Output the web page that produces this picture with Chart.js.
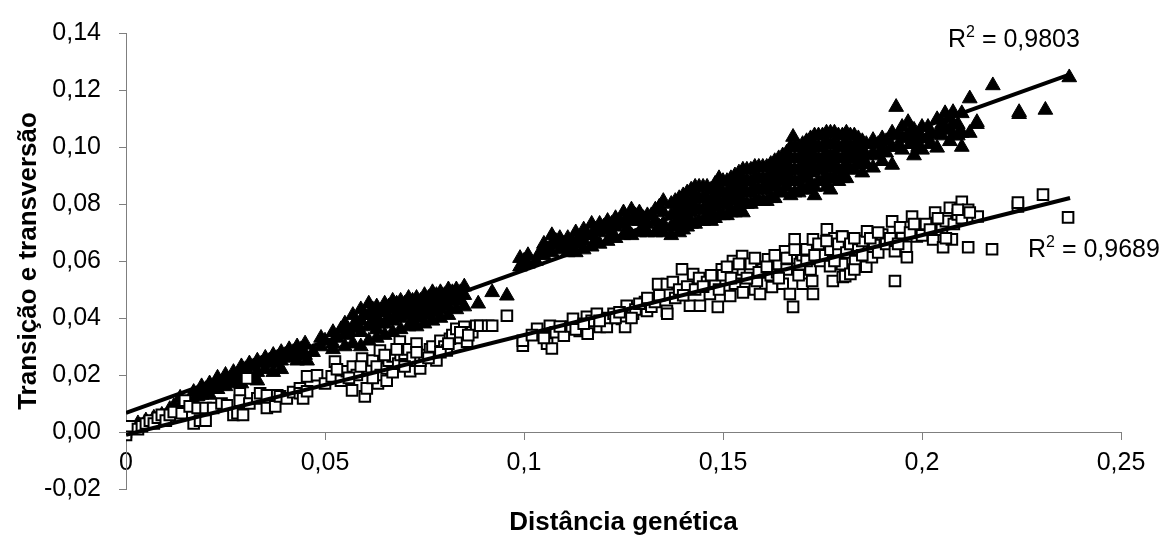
<!DOCTYPE html>
<html>
<head>
<meta charset="utf-8">
<title>Distância genética</title>
<script src="https://cdn.jsdelivr.net/npm/chart.js@4.4.1/dist/chart.umd.min.js"></script>
<style>
  html, body { margin: 0; padding: 0; background: #fff; }
  #wrap { width: 1163px; height: 545px; }
</style>
</head>
<body>
<div id="wrap"><canvas id="chart" width="1163" height="545"></canvas></div>
<script>
// filled triangles (upper cloud), [distance, value]
var triPoints = [
    [0.001, 0.001], [0.003, 0.003], [0.005, 0.004], [0.007, 0.005], [0.009, 0.006], [0.011, 0.008], [0.012, 0.009],
    [0.0136, 0.012], [0.014, 0.010], [0.017, 0.014], [0.017, 0.011], [0.019, 0.016], [0.019, 0.013],
    [0.021, 0.017], [0.021, 0.013], [0.023, 0.019], [0.023, 0.015], [0.025, 0.020], [0.025, 0.016],
    [0.027, 0.021], [0.027, 0.017], [0.029, 0.023], [0.029, 0.019], [0.029, 0.017], [0.031, 0.024], [0.031, 0.020],
    [0.033, 0.025], [0.033, 0.021], [0.033, 0.018], [0.035, 0.026], [0.035, 0.022],
    [0.037, 0.027], [0.037, 0.024], [0.037, 0.021], [0.039, 0.028], [0.039, 0.025], [0.039, 0.022],
    [0.041, 0.029], [0.041, 0.026], [0.043, 0.030], [0.043, 0.027], [0.043, 0.025],
    [0.045, 0.031], [0.045, 0.027], [0.0455, 0.025], [0.047, 0.028],
    [0.018, 0.0125], [0.020, 0.015], [0.022, 0.016], [0.024, 0.017], [0.026, 0.018], [0.028, 0.020], [0.030, 0.022],
    [0.032, 0.023], [0.034, 0.024], [0.036, 0.025], [0.038, 0.026], [0.040, 0.027], [0.042, 0.028], [0.044, 0.029],
    [0.049, 0.033], [0.049, 0.030], [0.052, 0.035], [0.052, 0.031], [0.052, 0.029],
    [0.055, 0.038], [0.055, 0.034], [0.055, 0.030], [0.057, 0.041], [0.057, 0.037], [0.057, 0.031],
    [0.059, 0.043], [0.059, 0.039], [0.059, 0.035], [0.059, 0.030], [0.061, 0.045], [0.061, 0.041], [0.061, 0.037], [0.061, 0.032],
    [0.063, 0.044], [0.063, 0.040], [0.063, 0.036], [0.063, 0.033], [0.065, 0.045], [0.065, 0.042], [0.065, 0.038], [0.065, 0.034],
    [0.067, 0.046], [0.067, 0.043], [0.067, 0.039], [0.067, 0.035], [0.069, 0.046], [0.069, 0.043], [0.069, 0.040], [0.069, 0.036],
    [0.071, 0.047], [0.071, 0.044], [0.071, 0.041], [0.071, 0.037], [0.073, 0.047], [0.073, 0.044], [0.073, 0.041], [0.073, 0.037],
    [0.075, 0.048], [0.075, 0.045], [0.075, 0.042], [0.075, 0.038], [0.077, 0.049], [0.077, 0.046], [0.077, 0.043], [0.077, 0.039],
    [0.079, 0.049], [0.079, 0.046], [0.079, 0.043], [0.079, 0.040], [0.081, 0.050], [0.081, 0.047], [0.081, 0.044], [0.081, 0.041],
    [0.083, 0.050], [0.083, 0.047], [0.083, 0.043], [0.085, 0.051], [0.085, 0.048], [0.085, 0.044],
    [0.050, 0.032], [0.053, 0.033], [0.054, 0.036], [0.056, 0.035], [0.058, 0.038], [0.060, 0.041], [0.062, 0.043], [0.062, 0.039],
    [0.064, 0.042], [0.064, 0.038], [0.066, 0.044], [0.066, 0.040], [0.068, 0.045], [0.068, 0.041], [0.070, 0.045], [0.070, 0.042],
    [0.072, 0.046], [0.072, 0.043], [0.072, 0.039], [0.074, 0.046], [0.074, 0.043], [0.074, 0.040], [0.076, 0.047], [0.076, 0.044],
    [0.076, 0.041], [0.078, 0.048], [0.078, 0.045], [0.078, 0.042], [0.080, 0.048], [0.080, 0.045], [0.082, 0.049], [0.082, 0.046],
    [0.084, 0.049], [0.084, 0.046],
    [0.0885, 0.045], [0.092, 0.049], [0.0957, 0.0478],
    [0.099, 0.061], [0.099, 0.058], [0.101, 0.062], [0.101, 0.059], [0.103, 0.060], [0.105, 0.066], [0.105, 0.062],
    [0.107, 0.069], [0.107, 0.066], [0.107, 0.063], [0.109, 0.068], [0.109, 0.064], [0.111, 0.068], [0.111, 0.065], [0.111, 0.063],
    [0.113, 0.070], [0.113, 0.066], [0.113, 0.063], [0.115, 0.071], [0.115, 0.067], [0.115, 0.064],
    [0.117, 0.073], [0.117, 0.069], [0.117, 0.065], [0.119, 0.073], [0.119, 0.070], [0.119, 0.066],
    [0.121, 0.074], [0.121, 0.071], [0.121, 0.067], [0.123, 0.075], [0.123, 0.072], [0.123, 0.068],
    [0.125, 0.077], [0.125, 0.073], [0.125, 0.069], [0.127, 0.078], [0.127, 0.074], [0.127, 0.069],
    [0.129, 0.077], [0.129, 0.074], [0.129, 0.070], [0.131, 0.076], [0.131, 0.073], [0.131, 0.070],
    [0.133, 0.078], [0.133, 0.074], [0.133, 0.070], [0.135, 0.081], [0.135, 0.077], [0.135, 0.073], [0.135, 0.070],
    [0.100, 0.060], [0.104, 0.063], [0.106, 0.064], [0.108, 0.067], [0.110, 0.066], [0.112, 0.067], [0.114, 0.068],
    [0.116, 0.069], [0.118, 0.071], [0.120, 0.072], [0.122, 0.073], [0.124, 0.074], [0.126, 0.075], [0.128, 0.076],
    [0.130, 0.075], [0.132, 0.076], [0.134, 0.079], [0.134, 0.072], [0.118, 0.067], [0.122, 0.069], [0.126, 0.071], [0.130, 0.072],
    [0.137, 0.080], [0.137, 0.076], [0.137, 0.072], [0.137, 0.069], [0.139, 0.082], [0.139, 0.078], [0.139, 0.074], [0.139, 0.070],
    [0.141, 0.084], [0.141, 0.080], [0.141, 0.076], [0.141, 0.072], [0.143, 0.086], [0.143, 0.082], [0.143, 0.078], [0.143, 0.073],
    [0.145, 0.086], [0.145, 0.082], [0.145, 0.078], [0.145, 0.074], [0.147, 0.085], [0.147, 0.081], [0.147, 0.077], [0.147, 0.074],
    [0.149, 0.089], [0.149, 0.084], [0.149, 0.080], [0.149, 0.076], [0.151, 0.088], [0.151, 0.084], [0.151, 0.080], [0.151, 0.076],
    [0.153, 0.090], [0.153, 0.086], [0.153, 0.082], [0.153, 0.077], [0.155, 0.092], [0.155, 0.088], [0.155, 0.084], [0.155, 0.080], [0.155, 0.077],
    [0.157, 0.092], [0.157, 0.088], [0.157, 0.084], [0.157, 0.080], [0.159, 0.093], [0.159, 0.089], [0.159, 0.085], [0.159, 0.081],
    [0.161, 0.093], [0.161, 0.089], [0.161, 0.085], [0.161, 0.081], [0.163, 0.095], [0.163, 0.091], [0.163, 0.087], [0.163, 0.082],
    [0.165, 0.097], [0.165, 0.093], [0.165, 0.089], [0.165, 0.084], [0.167, 0.100], [0.167, 0.096], [0.167, 0.092], [0.167, 0.088], [0.167, 0.083],
    [0.1676, 0.1035], [0.169, 0.100], [0.169, 0.096], [0.169, 0.092], [0.169, 0.088], [0.169, 0.084],
    [0.171, 0.102], [0.171, 0.098], [0.171, 0.094], [0.171, 0.090], [0.171, 0.085],
    [0.173, 0.104], [0.173, 0.100], [0.173, 0.096], [0.173, 0.092], [0.173, 0.086], [0.173, 0.083],
    [0.175, 0.104], [0.175, 0.100], [0.175, 0.096], [0.175, 0.092], [0.175, 0.088],
    [0.177, 0.105], [0.177, 0.101], [0.177, 0.097], [0.177, 0.093], [0.177, 0.089], [0.177, 0.085],
    [0.179, 0.104], [0.179, 0.100], [0.179, 0.096], [0.179, 0.092], [0.179, 0.088],
    [0.181, 0.105], [0.181, 0.101], [0.181, 0.097], [0.181, 0.093], [0.181, 0.089],
    [0.138, 0.081], [0.138, 0.077], [0.138, 0.073], [0.140, 0.083], [0.140, 0.079], [0.140, 0.075], [0.140, 0.071],
    [0.142, 0.085], [0.142, 0.081], [0.142, 0.077], [0.142, 0.073], [0.144, 0.086], [0.144, 0.082], [0.144, 0.078], [0.144, 0.074],
    [0.146, 0.086], [0.146, 0.082], [0.146, 0.078], [0.146, 0.075], [0.148, 0.087], [0.148, 0.083], [0.148, 0.079], [0.148, 0.075],
    [0.150, 0.088], [0.150, 0.084], [0.150, 0.080], [0.150, 0.076], [0.152, 0.089], [0.152, 0.085], [0.152, 0.081], [0.152, 0.077],
    [0.154, 0.091], [0.154, 0.087], [0.154, 0.083], [0.154, 0.079], [0.156, 0.092], [0.156, 0.088], [0.156, 0.084], [0.156, 0.080],
    [0.158, 0.093], [0.158, 0.089], [0.158, 0.085], [0.158, 0.081], [0.160, 0.093], [0.160, 0.089], [0.160, 0.085], [0.160, 0.081],
    [0.162, 0.094], [0.162, 0.090], [0.162, 0.086], [0.162, 0.082], [0.164, 0.096], [0.164, 0.092], [0.164, 0.088], [0.164, 0.084],
    [0.166, 0.098], [0.166, 0.094], [0.166, 0.090], [0.166, 0.086], [0.168, 0.100], [0.168, 0.096], [0.168, 0.092], [0.168, 0.088], [0.168, 0.084],
    [0.170, 0.101], [0.170, 0.097], [0.170, 0.093], [0.170, 0.089], [0.170, 0.085], [0.172, 0.103], [0.172, 0.099], [0.172, 0.095], [0.172, 0.091], [0.172, 0.087],
    [0.174, 0.104], [0.174, 0.100], [0.174, 0.096], [0.174, 0.092], [0.174, 0.088], [0.176, 0.105], [0.176, 0.101], [0.176, 0.097], [0.176, 0.093], [0.176, 0.089], [0.176, 0.086],
    [0.178, 0.105], [0.178, 0.101], [0.178, 0.097], [0.178, 0.093], [0.178, 0.089], [0.180, 0.104], [0.180, 0.100], [0.180, 0.096], [0.180, 0.092], [0.180, 0.089],
    [0.182, 0.104], [0.182, 0.100], [0.182, 0.096], [0.182, 0.092],
    [0.183, 0.104], [0.183, 0.100], [0.183, 0.096], [0.183, 0.092], [0.185, 0.102], [0.185, 0.098], [0.185, 0.094], [0.185, 0.091],
    [0.184, 0.103], [0.184, 0.099], [0.184, 0.095], [0.186, 0.101], [0.186, 0.097], [0.186, 0.094],
    [0.1877, 0.1024], [0.1877, 0.098], [0.1877, 0.0927], [0.190, 0.103], [0.190, 0.099], [0.190, 0.095],
    [0.189, 0.101], [0.189, 0.097], [0.191, 0.102], [0.191, 0.098],
    [0.1925, 0.105], [0.1925, 0.100], [0.1925, 0.0937], [0.1935, 0.114], [0.195, 0.107], [0.195, 0.103], [0.195, 0.099],
    [0.194, 0.104], [0.194, 0.100], [0.197, 0.105], [0.197, 0.101], [0.199, 0.104], [0.199, 0.100],
    [0.1965, 0.1087], [0.1965, 0.104], [0.198, 0.106], [0.198, 0.101], [0.198, 0.097],
    [0.200, 0.107], [0.200, 0.103], [0.200, 0.099], [0.2015, 0.107], [0.2015, 0.103], [0.202, 0.105], [0.202, 0.101],
    [0.2038, 0.1097], [0.2038, 0.1045], [0.2038, 0.0997], [0.2058, 0.1118], [0.2058, 0.107], [0.205, 0.108], [0.205, 0.104],
    [0.2078, 0.1122], [0.2078, 0.1077], [0.2078, 0.104], [0.207, 0.110], [0.207, 0.106], [0.207, 0.102],
    [0.210, 0.1118], [0.210, 0.1049], [0.210, 0.100], [0.209, 0.108], [0.209, 0.104],
    [0.212, 0.117], [0.212, 0.1049], [0.2138, 0.1087], [0.2138, 0.108], [0.2178, 0.1216],
    [0.2244, 0.1122], [0.2244, 0.1115], [0.231, 0.113], [0.237, 0.1244]
];

// open squares (lower cloud), [distance, value]
var sqPoints = [
    [0, 0], [0, -0.001], [0.001, 0.002], [0.003, 0.001], [0.004, 0.002], [0.005, 0.003], [0.006, 0.004], [0.007, 0.003],
    [0.008, 0.005], [0.009, 0.006], [0.010, 0.004], [0.011, 0.006], [0.012, 0.007], [0.014, 0.0066], [0.0148, 0.011],
    [0.016, 0.009], [0.017, 0.003], [0.018, 0.0084], [0.0186, 0.004], [0.020, 0.0084], [0.020, 0.004], [0.0219, 0.0084],
    [0.024, 0.010], [0.0254, 0.0094], [0.027, 0.006], [0.028, 0.0066], [0.0286, 0.0136], [0.0286, 0.011], [0.0294, 0.006],
    [0.0304, 0.0188], [0.031, 0.010], [0.033, 0.0118], [0.0337, 0.0136], [0.0354, 0.0129], [0.0354, 0.0084], [0.0375, 0.009],
    [0.038, 0.0129], [0.0387, 0.0125], [0.0404, 0.0118], [0.042, 0.014], [0.0437, 0.0153], [0.0437, 0.0136], [0.0445, 0.0118],
    [0.0455, 0.0195], [0.0455, 0.0143], [0.048, 0.0199], [0.050, 0.017],
    [0.0517, 0.0195], [0.0525, 0.0247], [0.054, 0.018], [0.0555, 0.0213], [0.0568, 0.0146], [0.057, 0.023], [0.058, 0.020],
    [0.0593, 0.0258], [0.060, 0.0125], [0.0605, 0.0153], [0.061, 0.022], [0.062, 0.0251], [0.0633, 0.017], [0.063, 0.023],
    [0.0638, 0.0286], [0.064, 0.020], [0.0655, 0.0223], [0.0655, 0.018], [0.066, 0.025], [0.067, 0.0265], [0.067, 0.021],
    [0.0684, 0.024], [0.0688, 0.0317], [0.069, 0.027], [0.070, 0.0275], [0.0714, 0.0213], [0.071, 0.029], [0.072, 0.026],
    [0.073, 0.031], [0.0739, 0.0223], [0.074, 0.025], [0.075, 0.027], [0.0764, 0.029], [0.077, 0.030], [0.078, 0.0251],
    [0.079, 0.032], [0.080, 0.030], [0.0806, 0.0286], [0.0814, 0.0327], [0.082, 0.034], [0.083, 0.0362], [0.084, 0.033],
    [0.085, 0.0369], [0.0857, 0.0317], [0.087, 0.035], [0.088, 0.0373], [0.089, 0.0373], [0.091, 0.0373], [0.092, 0.0373],
    [0.053, 0.022], [0.056, 0.019], [0.059, 0.023], [0.062, 0.019], [0.065, 0.027], [0.068, 0.029], [0.070, 0.023],
    [0.073, 0.028], [0.076, 0.026], [0.079, 0.028], [0.081, 0.031], [0.084, 0.035], [0.086, 0.034],
    [0.0957, 0.0408],
    [0.0997, 0.0303], [0.0997, 0.032], [0.1033, 0.0362], [0.1058, 0.031], [0.107, 0.0293], [0.1065, 0.0373], [0.108, 0.035],
    [0.110, 0.0338], [0.112, 0.037], [0.1123, 0.0397], [0.114, 0.0355], [0.1158, 0.0404], [0.116, 0.0345], [0.117, 0.039],
    [0.1183, 0.0415], [0.119, 0.0369], [0.1208, 0.0369], [0.121, 0.040], [0.1225, 0.0415], [0.1246, 0.0397], [0.1258, 0.0443],
    [0.1254, 0.0369], [0.1274, 0.0415], [0.128, 0.043], [0.1304, 0.0456], [0.1309, 0.0425], [0.132, 0.044], [0.1329, 0.0456],
    [0.134, 0.048], [0.1337, 0.0519], [0.1359, 0.0519], [0.1359, 0.0425],
    [0.102, 0.034], [0.105, 0.033], [0.109, 0.037], [0.113, 0.036], [0.115, 0.038], [0.119, 0.039], [0.123, 0.040],
    [0.124, 0.042], [0.127, 0.040], [0.129, 0.045], [0.131, 0.047],
    [0.136, 0.0415], [0.1374, 0.0526], [0.138, 0.047], [0.1397, 0.0571], [0.139, 0.050], [0.141, 0.051], [0.1417, 0.0443],
    [0.1425, 0.0554], [0.1442, 0.0443], [0.144, 0.054], [0.146, 0.0526], [0.1467, 0.0484], [0.148, 0.052], [0.1487, 0.0439],
    [0.1497, 0.0571], [0.150, 0.055], [0.1518, 0.0477], [0.1525, 0.060], [0.153, 0.052], [0.1548, 0.0617], [0.155, 0.057],
    [0.155, 0.049], [0.1568, 0.0564], [0.157, 0.059], [0.158, 0.050], [0.1585, 0.053], [0.1593, 0.0484], [0.160, 0.057],
    [0.1613, 0.0606], [0.162, 0.055], [0.1623, 0.0509], [0.1636, 0.0561], [0.164, 0.059], [0.165, 0.052], [0.1656, 0.0634],
    [0.166, 0.057], [0.167, 0.061], [0.1668, 0.0484], [0.1676, 0.0439], [0.168, 0.0676], [0.1693, 0.0589], [0.170, 0.062],
    [0.170, 0.052], [0.171, 0.0641], [0.172, 0.057], [0.1724, 0.053], [0.1726, 0.0676], [0.1726, 0.0484], [0.1744, 0.060],
    [0.175, 0.062], [0.1751, 0.0659], [0.1761, 0.0711], [0.177, 0.064], [0.1769, 0.0582], [0.1776, 0.053], [0.178, 0.068],
    [0.179, 0.063], [0.1799, 0.0686], [0.1799, 0.0589], [0.1801, 0.0544],
    [0.140, 0.048], [0.143, 0.050], [0.145, 0.051], [0.147, 0.055], [0.149, 0.050], [0.151, 0.058], [0.152, 0.054],
    [0.154, 0.059], [0.156, 0.054], [0.158, 0.061], [0.159, 0.056], [0.161, 0.058], [0.163, 0.062], [0.164, 0.054],
    [0.166, 0.061], [0.168, 0.064], [0.169, 0.055], [0.171, 0.060], [0.173, 0.062], [0.174, 0.066], [0.176, 0.067],
    [0.178, 0.060], [0.179, 0.066], [0.181, 0.063],
    [0.180, 0.0686], [0.1807, 0.0547], [0.182, 0.066], [0.182, 0.0555], [0.1832, 0.060], [0.183, 0.057], [0.184, 0.064],
    [0.185, 0.067], [0.1862, 0.0704], [0.186, 0.058], [0.1874, 0.0613], [0.188, 0.066], [0.189, 0.063], [0.190, 0.0693],
    [0.191, 0.066], [0.1925, 0.0739], [0.1932, 0.053], [0.1932, 0.0634], [0.1945, 0.0718], [0.195, 0.068], [0.196, 0.065],
    [0.1962, 0.0613], [0.1975, 0.0756], [0.1987, 0.0686], [0.199, 0.071], [0.2003, 0.0718], [0.201, 0.073], [0.2028, 0.0676],
    [0.2033, 0.077], [0.2045, 0.0739], [0.205, 0.071], [0.2053, 0.0648], [0.206, 0.074], [0.207, 0.0787], [0.2075, 0.0676],
    [0.208, 0.073], [0.209, 0.0763], [0.210, 0.0808], [0.210, 0.075], [0.2116, 0.078], [0.2116, 0.0648], [0.214, 0.0756],
    [0.183, 0.068], [0.185, 0.062], [0.187, 0.068], [0.189, 0.070], [0.192, 0.068], [0.194, 0.066], [0.197, 0.070],
    [0.198, 0.073], [0.200, 0.069], [0.202, 0.071], [0.204, 0.075], [0.206, 0.068], [0.209, 0.078], [0.212, 0.077],
    [0.2176, 0.0641], [0.2241, 0.0791], [0.2241, 0.0805], [0.2304, 0.0833], [0.2367, 0.0753]
];

// trend lines (start, end)
var triTrend = [[0, 0.0067], [0.2372, 0.1255]];
var sqTrend = [[0, -0.001], [0.2372, 0.0821]];

var triR2 = '0,9803';
var sqR2 = '0,9689';

var xTicks = [0, 0.05, 0.1, 0.15, 0.2, 0.25];
var xTickLabels = ['0', '0,05', '0,1', '0,15', '0,2', '0,25'];
var yTicks = [-0.02, 0, 0.02, 0.04, 0.06, 0.08, 0.1, 0.12, 0.14];
var yTickLabels = ['-0,02', '0,00', '0,02', '0,04', '0,06', '0,08', '0,10', '0,12', '0,14'];

var xTitle = 'Distância genética';
var yTitle = 'Transição e transversão';

var FONT = '"Liberation Sans", Arial, sans-serif';

function toXY(list) {
    return list.map(function (p) { return { x: p[0], y: p[1] }; });
}

// axis titles and R² labels
var textPlugin = {
    id: 'textPlugin',
    afterDraw: function (chart) {
        var ctx = chart.ctx, area = chart.chartArea;
        ctx.save();
        ctx.fillStyle = '#000';
        ctx.textBaseline = 'alphabetic';

        ctx.font = 'bold 26px ' + FONT;
        ctx.textAlign = 'center';
        ctx.fillText(xTitle, (area.left + area.right) / 2, 530);

        ctx.save();
        ctx.translate(36, (area.top + area.bottom) / 2);
        ctx.rotate(-Math.PI / 2);
        ctx.fillText(yTitle, 0, 0);
        ctx.restore();

        drawR2(ctx, triR2, 948, 47);
        drawR2(ctx, sqR2, 1028, 257);
        ctx.restore();
    }
};

function drawR2(ctx, value, x, y) {
    ctx.textAlign = 'left';
    ctx.font = '25px ' + FONT;
    ctx.fillText('R', x, y);
    var w = ctx.measureText('R').width;
    ctx.font = '16px ' + FONT;
    ctx.fillText('2', x + w, y - 10);
    var w2 = ctx.measureText('2').width;
    ctx.font = '25px ' + FONT;
    ctx.fillText(' = ' + value, x + w + w2, y);
}

var axisColor = '#7f7f7f';

new Chart(document.getElementById('chart'), {
    type: 'scatter',
    data: {
        datasets: [
            {
                type: 'line',
                data: toXY(triTrend),
                borderColor: '#000',
                borderWidth: 4,
                pointRadius: 0,
                fill: false,
                order: 0
            },
            {
                type: 'line',
                data: toXY(sqTrend),
                borderColor: '#000',
                borderWidth: 4,
                pointRadius: 0,
                fill: false,
                order: 0
            },
            {
                data: toXY(sqPoints),
                pointStyle: 'rect',
                pointRadius: 7.5,
                backgroundColor: '#fff',
                borderColor: '#000',
                borderWidth: 2,
                order: 1
            },
            {
                data: toXY(triPoints),
                pointStyle: 'triangle',
                pointRadius: 8.5,
                backgroundColor: '#000',
                borderColor: '#000',
                borderWidth: 1,
                order: 2
            }
        ]
    },
    options: {
        responsive: false,
        animation: false,
        layout: { padding: { left: 0, right: 42, top: 25, bottom: 56 } },
        plugins: {
            legend: { display: false },
            tooltip: { enabled: false }
        },
        scales: {
            x: {
                type: 'linear',
                position: { y: 0 },
                min: 0,
                max: 0.25,
                afterBuildTicks: function (s) { s.ticks = xTicks.map(function (v) { return { value: v }; }); },
                afterFit: function (s) { s.height = 0; },
                grid: { drawOnChartArea: false, drawTicks: true, tickLength: 7, color: axisColor },
                border: { color: axisColor, width: 1 },
                ticks: {
                    color: '#000',
                    font: { family: FONT, size: 25 },
                    padding: 9,
                    maxRotation: 0,
                    autoSkip: false,
                    callback: function (v, i) { return xTickLabels[i]; }
                }
            },
            y: {
                type: 'linear',
                position: 'left',
                min: -0.02,
                max: 0.14,
                afterBuildTicks: function (s) { s.ticks = yTicks.map(function (v) { return { value: v }; }); },
                afterFit: function (s) { s.width = 126; },
                grid: { drawOnChartArea: false, drawTicks: true, tickLength: 7, color: axisColor },
                border: { color: axisColor, width: 1 },
                ticks: {
                    color: '#000',
                    font: { family: FONT, size: 25 },
                    padding: 18,
                    callback: function (v, i) { return yTickLabels[i]; }
                }
            }
        }
    },
    plugins: [textPlugin]
});
</script>
</body>
</html>
